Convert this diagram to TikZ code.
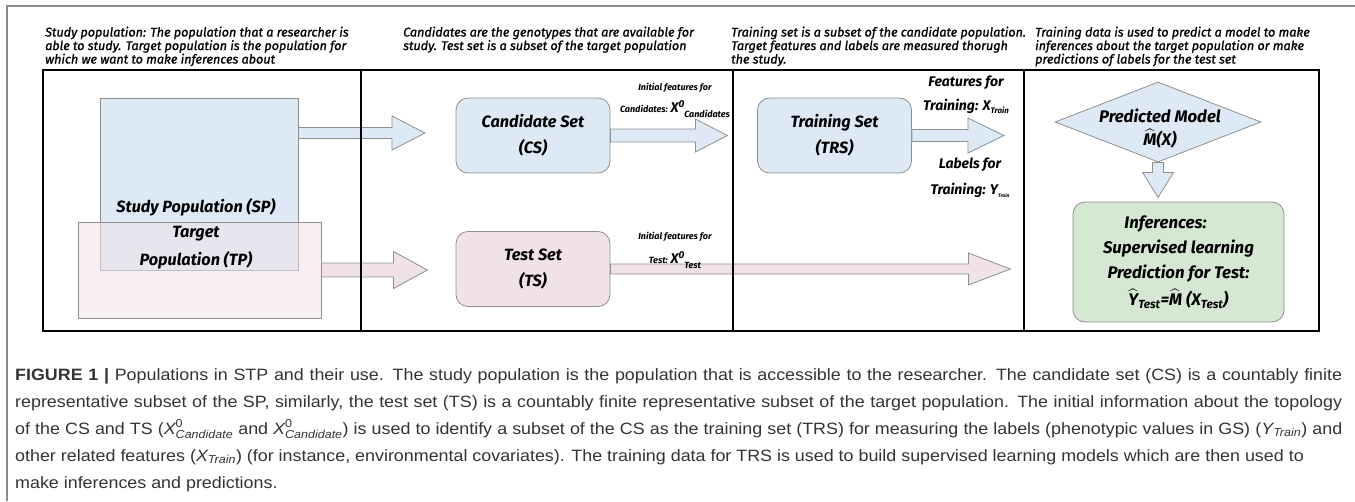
\documentclass[tikz,border=0pt]{standalone}
\usepackage{amsmath}
\usepackage{fontspec}
\setmainfont{Fira Sans}
\newfontfamily\notefont{Fira Sans}[FakeBold=1.2]
\newfontfamily\capfont{Liberation Sans}[FakeStretch=1.09]
\usepackage{tikz}
\usetikzlibrary{calc, shapes.geometric}

\definecolor{setblue}{HTML}{DDEAF6}
\definecolor{setpink}{HTML}{F1E1E8}
\definecolor{setgreen}{HTML}{D5E8D2}
\definecolor{edgegrey}{HTML}{8E8E8E}
\definecolor{pagegrey}{HTML}{8A8A8A}
\definecolor{captext}{HTML}{333333}

\tikzset{
  arrow shaft/.store in=\arrowshaft,
  arrow head/.store in=\arrowhead,
  arrow len/.store in=\arrowlen,
  blockarrow/.style={draw=edgegrey, line width=0.8pt, arrow shaft=6pt, arrow head=17pt, arrow len=34pt},
  frame/.style={line width=2.4pt, black},
  pageframe/.style={line width=1.2pt, pagegrey},
  popbox/.style={draw=edgegrey, line width=0.8pt, inner sep=0pt},
  setbox/.style={draw=edgegrey, line width=0.8pt, rounded corners=12pt, minimum width=154pt, minimum height=75pt,
    align=center, font=\fontsize{16.3}{26}\selectfont\bfseries\itshape},
  boxtext/.style={align=center, inner sep=0pt, font=\fontsize{16.3}{25}\selectfont\bfseries\itshape},
  heading/.style={anchor=north west, align=left, inner sep=0pt, font=\notefont\fontsize{12.6}{13.5}\selectfont\itshape},
  featlabel/.style={inner sep=0pt, font=\fontsize{9}{10}\selectfont\bfseries\itshape},
  trainlabel/.style={inner sep=0pt, font=\fontsize{14}{15}\selectfont\bfseries\itshape},
  caption/.style={anchor=north west, align=justify, text width=1327pt, inner sep=0pt, text=captext,
    font=\capfont\fontsize{16.4}{27}\selectfont},
}

% block arrow between two points, sizes taken from the keys above
\newcommand{\blockarrow}[3][]{%
  \begin{scope}[blockarrow,#1]
    \coordinate (ba-neck) at ($(#3)!\arrowlen!(#2)$);
    \filldraw ($(#2)!\arrowshaft!90:(#3)$) -- ($(ba-neck)!\arrowshaft!90:(#3)$)
      -- ($(ba-neck)!\arrowhead!90:(#3)$) -- (#3) -- ($(ba-neck)!\arrowhead!-90:(#3)$)
      -- ($(ba-neck)!\arrowshaft!-90:(#3)$) -- ($(#2)!\arrowshaft!-90:(#3)$) -- cycle;
  \end{scope}}

% X^0 with a trailing subscript
\newcommand{\featsym}[3]{{\fontsize{14}{14}\selectfont #1}\raisebox{5pt}{\fontsize{10}{10}\selectfont #2}\raisebox{-5pt}{#3}}

\begin{document}
\begin{tikzpicture}[x=1pt, y=-1pt]
\useasboundingbox (0,0) rectangle (1355,501);

% page frame
\draw[pageframe] (7,501) -- (7,6) -- (1355,6);

% column notes
\node[heading] (spnote) at (45,26.5) {Study population: The population that a researcher is\\able to study. Target population is the population for\\which we want to make inferences about};
\node[heading] (csnote) at (403,26.5) {Candidates are the genotypes that are available for\\study. Test set is a subset of the target population};
\node[heading] (trsnote) at (731,26.5) {Training set is a subset of the candidate population.\\Target features and labels are measured thorugh\\the study.};
\node[heading] (infnote) at (1035,26.5) {Training data is used to predict a model to make\\inferences about the target population or make\\predictions of labels for the test set};

% study and target populations
\node[popbox, fill=setblue, minimum width=198pt, minimum height=172pt] (sp) at (199,184) {};
\node[popbox, fill=setpink, fill opacity=0.55, minimum width=243pt, minimum height=96pt] (tp) at (199.5,270) {};
\node[boxtext] (sptext) at (196,207) {Study Population (SP)};
\node[boxtext, font=\fontsize{16.3}{28}\selectfont\bfseries\itshape] (tptext) at (196,248) {Target\\Population (TP)};

% sets
\node[setbox, fill=setblue] (cs) at (533,135.5) {Candidate Set\\(CS)};
\node[setbox, fill=setpink] (ts) at (533,269) {Test Set\\(TS)};
\node[setbox, fill=setblue] (trs) at (834.5,135.5) {Training Set\\(TRS)};

% model and inferences
\node[diamond, draw=edgegrey, line width=0.8pt, fill=setblue, inner sep=0pt, minimum width=206pt, minimum height=80pt] (model) at (1158,122) {};
\node[boxtext, font=\fontsize{16.8}{23}\selectfont\bfseries\itshape] (modeltext) at (1160,129) {Predicted Model\\$\widehat{\textit{M}}$(X)};
\node[setbox, fill=setgreen, minimum width=211pt, minimum height=120pt, font=\fontsize{16.8}{25}\selectfont\bfseries\itshape] (inf) at (1178.5,262)
  {Inferences:\hspace*{26pt}\\Supervised learning\\Prediction for Test:\\[2pt]$\widehat{\textit{Y}}_{\textit{Test}}$=$\widehat{\textit{M}}$ (X$_{\textit{Test}}$)};

% arrows
\coordinate (sptip) at (425,133);
\coordinate (spfoot) at (sp.east |- sptip);
\coordinate (tptip) at ($(tp.east)+(106,0)$);
\coordinate (cstip) at ($(cs.east)+(117,0)$);
\coordinate (trstip) at ($(trs.east)+(92,0)$);
\coordinate (tstip) at ($(ts.east)+(400,0)$);
\coordinate (modeltip) at ($(model.south)+(0,35)$);
\blockarrow[fill=setblue, arrow shaft=5.5pt, arrow len=33pt]{spfoot}{sptip}
\blockarrow[fill=setpink, arrow shaft=7pt, arrow head=18.5pt]{tp.east}{tptip}
\blockarrow[fill=setblue, arrow shaft=6.5pt, arrow head=16.5pt, arrow len=32pt]{cs.east}{cstip}
\blockarrow[fill=setblue, arrow head=17.5pt, arrow len=36pt]{trs.east}{trstip}
\blockarrow[fill=setpink, arrow shaft=5pt, arrow head=16pt, arrow len=42pt]{ts.east}{tstip}
\blockarrow[fill=setblue, arrow shaft=5.5pt, arrow head=15.5pt, arrow len=25pt]{model.south}{modeltip}

% arrow labels
\node[featlabel] (csinit) at (675,88) {Initial features for};
\node[featlabel] (csfeat) at (675,109) {Candidates: \featsym{X}{0}{Candidates}};
\node[featlabel] (tsinit) at (675,237) {Initial features for};
\node[featlabel] (tsfeat) at (675,260) {Test: \featsym{X}{0}{Test}};
\node[trainlabel] (trsfeat) at (966,83) {Features for};
\node[trainlabel] (trsx) at (966,106) {Training: X\raisebox{-3pt}{\fontsize{8}{8}\selectfont Train}};
\node[trainlabel] (trslab) at (970,165) {Labels for};
\node[trainlabel] (trsy) at (970,190) {Training: Y\raisebox{-3pt}{\fontsize{5}{5}\selectfont Train}};

% outer box and columns
\draw[frame] (43,70) rectangle (1319,331);
\foreach \x in {361,733,1024}
  \draw[frame] (\x,70) -- (\x,331);

% caption
\node[caption] (figcap) at (15,368) {\textbf{FIGURE 1 |} Populations in STP and their use. The study population is the population that is accessible to the researcher. The candidate set (CS) is a countably finite\linebreak
representative subset of the SP, similarly, the test set (TS) is a countably finite representative subset of the target population. The initial information about the topology\linebreak
of the CS and TS ($\textit{X}^{\textup{0}}_{\textit{Candidate}}$ and $\textit{X}^{\textup{0}}_{\textit{Candidate}}$) is used to identify a subset of the CS as the training set (TRS) for measuring the labels (phenotypic values in GS) ($\textit{Y}_{\textit{Train}}$) and\linebreak
other related features ($\textit{X}_{\textit{Train}}$) (for instance, environmental covariates). The training data for TRS is used to build supervised learning models which are then used to\newline
make inferences and predictions.};
\end{tikzpicture}
\end{document}
